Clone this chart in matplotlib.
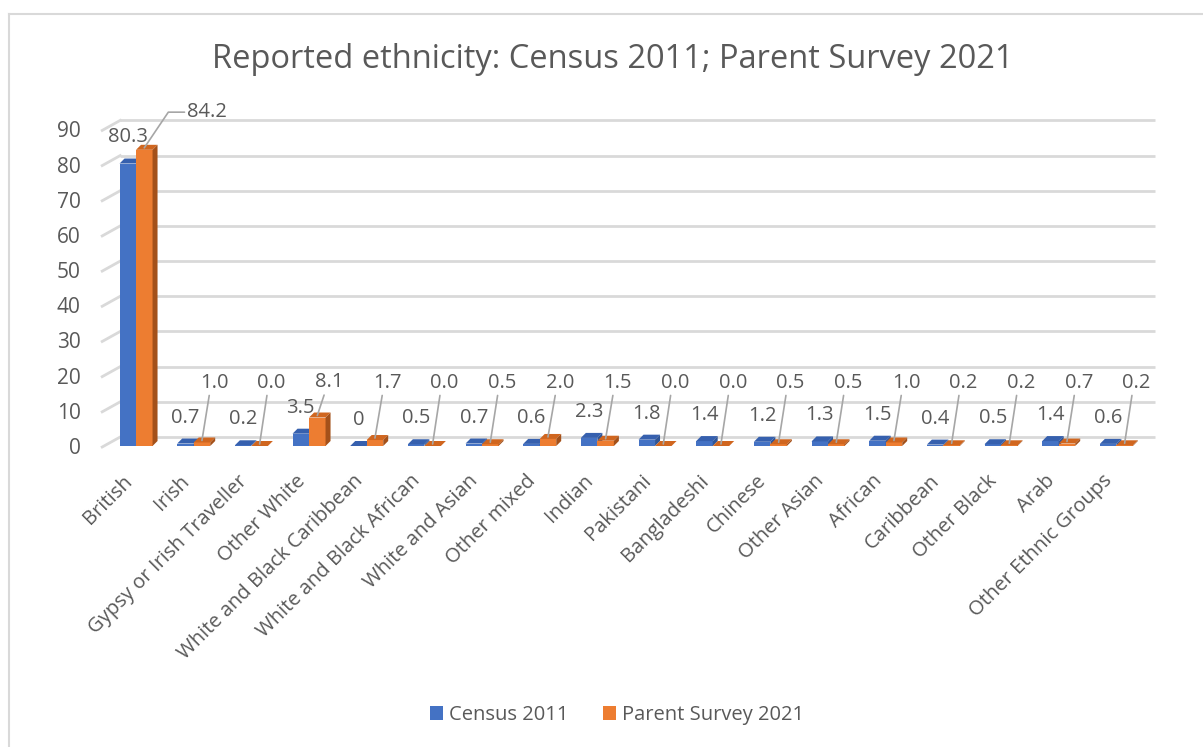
import matplotlib
matplotlib.use("Agg")
import matplotlib.pyplot as plt
from matplotlib.patches import Polygon, Patch
from matplotlib.transforms import ScaledTranslation
from matplotlib.lines import Line2D

categories = ["British", "Irish", "Gypsy or Irish Traveller", "Other White",
              "White and Black Caribbean", "White and Black African", "White and Asian",
              "Other mixed", "Indian", "Pakistani", "Bangladeshi", "Chinese", "Other Asian",
              "African", "Caribbean", "Other Black", "Arab", "Other Ethnic Groups"]
census_2011 = [80.3, 0.7, 0.2, 3.5, 0, 0.5, 0.7, 0.6, 2.3, 1.8, 1.4, 1.2, 1.3, 1.5, 0.4, 0.5, 1.4, 0.6]
parent_2021 = [84.2, 1.0, 0.0, 8.1, 1.7, 0.0, 0.5, 2.0, 1.5, 0.0, 0.0, 0.5, 0.5, 1.0, 0.2, 0.2, 0.7, 0.2]
yticks = [0, 10, 20, 30, 40, 50, 60, 70, 80, 90]
series_names = ["Census 2011", "Parent Survey 2021"]
title = "Reported ethnicity: Census 2011; Parent Survey 2021"

FONT = "Open Sans"
plt.rcParams['font.family'] = [FONT, 'DejaVu Sans']
TXT = "#595959"
GRID = "#d9d9d9"

W, H = 1203, 747
fig = plt.figure(figsize=(W / 100, H / 100), dpi=100)
ax_l, ax_b, ax_w, ax_h = 107.2, 446, 1038, 316.6   # pixels (left, bottom-from-top, width, height)
ax = fig.add_axes([ax_l / W, (H - ax_b) / H, ax_w / W, ax_h / H])
n = len(categories)
ax.set_xlim(-0.5, n - 0.5)
ax.set_ylim(0, 90)
for s in ax.spines.values():
    s.set_visible(False)
ax.set_facecolor("none")

dx_per_px = n / ax_w
dy_per_px = 90 / ax_h

# chart border (top and left)
fig.add_artist(Line2D([9 / W, 1], [(H - 14) / H] * 2, color=GRID, lw=1.5))
fig.add_artist(Line2D([9 / W] * 2, [0, (H - 14) / H], color=GRID, lw=1.5))

# back-wall gridlines with perspective stub
gdx, gdy = 13, 9
back = ax.transData + ScaledTranslation(gdx / 100, gdy / 100, fig.dpi_scale_trans)
for yv in yticks:
    ax.plot([-0.5, n - 0.5 - 3 * dx_per_px], [yv, yv], color=GRID, lw=2, transform=back,
            clip_on=False, zorder=0, solid_capstyle='butt')
    x0 = -0.5 - 5 * dx_per_px
    ax.plot([x0, -0.5 + gdx * dx_per_px], [yv - 1 * dy_per_px, yv + gdy * dy_per_px],
            color=GRID, lw=2, clip_on=False, zorder=0)

ax.set_yticks(yticks)
ax.set_yticklabels([str(t) for t in yticks])
ax.tick_params(axis='y', length=0, pad=19, labelsize=15, labelcolor=TXT)
ax.set_xticks([])

# 3D-like bars
bw = 16.5 / 57.65
ddx, ddy = 5 * dx_per_px, 5 * dy_per_px
cols = [("#4472C4", "#3660AE", "#2F5597"), ("#ED7D31", "#D0661F", "#A4511A")]

def bar3d(x0, v, front, top, side):
    x1 = x0 + bw
    ax.add_patch(Polygon([(x0, 0), (x1, 0), (x1, v), (x0, v)], closed=True, fc=front, ec='none', zorder=3))
    ax.add_patch(Polygon([(x0, v), (x1, v), (x1 + ddx, v + ddy), (x0 + ddx, v + ddy)], closed=True,
                         fc=top, ec='none', zorder=3))
    ax.add_patch(Polygon([(x1, 0), (x1 + ddx, ddy), (x1 + ddx, v + ddy), (x1, v)], closed=True,
                         fc=side, ec='none', zorder=3))

for i in range(n):
    bar3d(i - bw, census_2011[i], *cols[0])
    bar3d(i, parent_2021[i], *cols[1])

# data labels
for i in range(n):
    v = census_2011[i]
    lab = f"{v:.1f}" if v != 0 else "0"
    ax.text(i - bw / 2, v + 7.4, lab, ha='center', va='center', fontsize=14.5, color=TXT, zorder=5)
for i in range(n):
    v = parent_2021[i]
    xb = i + bw / 2
    if v > 50:
        ax.annotate(f"{v:.1f}", xy=(xb, v + 2 * dy_per_px), xytext=(xb + 43 * dx_per_px, v + 10.7),
                    ha='left', va='center', fontsize=14.5, color=TXT, zorder=5,
                    arrowprops=dict(arrowstyle='-', color="#a6a6a6", lw=1.2, relpos=(0, 0.5),
                                    connectionstyle="angle,angleA=0,angleB=56", shrinkA=0, shrinkB=0))
    else:
        ax.annotate(f"{v:.1f}", xy=(xb, v + 2 * dy_per_px), xytext=(xb + 12 * dx_per_px, max(v + 10, 18.0)),
                    ha='center', va='center', fontsize=14.5, color=TXT, zorder=5,
                    arrowprops=dict(arrowstyle='-', color="#a6a6a6", lw=1.2, relpos=(0.35, 0),
                                    shrinkA=0, shrinkB=0))

# category labels
lab_tr = ax.get_xaxis_transform() + ScaledTranslation(-14 / 100, -25 / 100, fig.dpi_scale_trans)
for i, c in enumerate(categories):
    ax.text(i, 0, c, rotation=45, ha='right', va='top', rotation_mode='anchor',
            fontsize=14.5, color=TXT, transform=lab_tr)

fig.text(612.5 / W, (H - 60) / H, title, ha='center', va='center', fontsize=23.5, color=TXT)

handles = [Patch(fc=cols[0][0], ec='none'), Patch(fc=cols[1][0], ec='none')]
fig.legend(handles, series_names, loc='center', bbox_to_anchor=(617 / W, (H - 715) / H), ncol=2,
           frameon=False, fontsize=14.5, labelcolor=TXT, handlelength=0.65, handleheight=0.65,
           handletextpad=0.3, columnspacing=1.7)

fig.savefig("out.png", dpi=100, facecolor="white")
